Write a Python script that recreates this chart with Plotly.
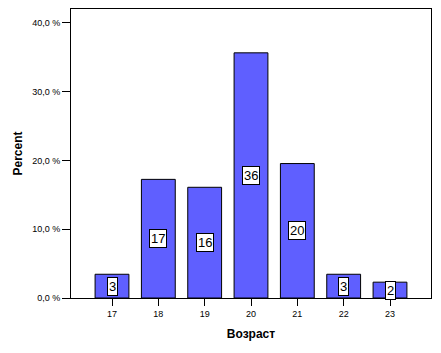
import plotly.graph_objects as go

ages = [17, 18, 19, 20, 21, 22, 23]
percent = [3.45, 17.24, 16.09, 35.63, 19.54, 3.45, 2.30]
labels = ["3", "17", "16", "36", "20", "3", "2"]
y_tickvals = [0, 10, 20, 30, 40]
y_ticktext = ["0,0 %", "10,0 %", "20,0 %", "30,0 %", "40,0 %"]

fig = go.Figure()
fig.add_trace(go.Bar(
    x=ages, y=percent, width=0.73,
    marker=dict(color="#5F5FFF", line=dict(color="black", width=1)),
    hoverinfo="skip",
))
for a, p, t in zip(ages, percent, labels):
    fig.add_annotation(
        x=a, y=p / 2, text=t, showarrow=False,
        font=dict(family="Liberation Sans, Arial", size=13, color="black"),
        bgcolor="white", bordercolor="black", borderwidth=1, borderpad=1,
    )

axis_font = dict(family="Liberation Sans, Arial", size=9, color="black")
fig.update_layout(
    width=441, height=353,
    margin=dict(l=71, r=10, t=9, b=55),
    paper_bgcolor="white", plot_bgcolor="white",
    showlegend=False,
    xaxis=dict(
        range=[16.115, 23.885], tickvals=ages, ticktext=[str(a) for a in ages],
        ticks="outside", ticklen=7, tickcolor="black", tickwidth=1,
        showline=True, linecolor="black", linewidth=1, mirror=True,
        showgrid=False, zeroline=False, tickfont=axis_font,
        title=dict(text="<b>Возраст</b>", font=dict(family="Liberation Sans, Arial", size=12, color="black"), standoff=11),
    ),
    yaxis=dict(
        range=[0, 42], tickvals=y_tickvals, ticktext=y_ticktext,
        ticks="outside", ticklen=8, tickcolor="black", tickwidth=1,
        showline=True, linecolor="black", linewidth=1, mirror=True,
        showgrid=False, zeroline=False, tickfont=axis_font,
        title=dict(text="<b>Percent</b>", font=dict(family="Liberation Sans, Arial", size=12, color="black"), standoff=6),
    ),
)
fig.write_html("out.html")
